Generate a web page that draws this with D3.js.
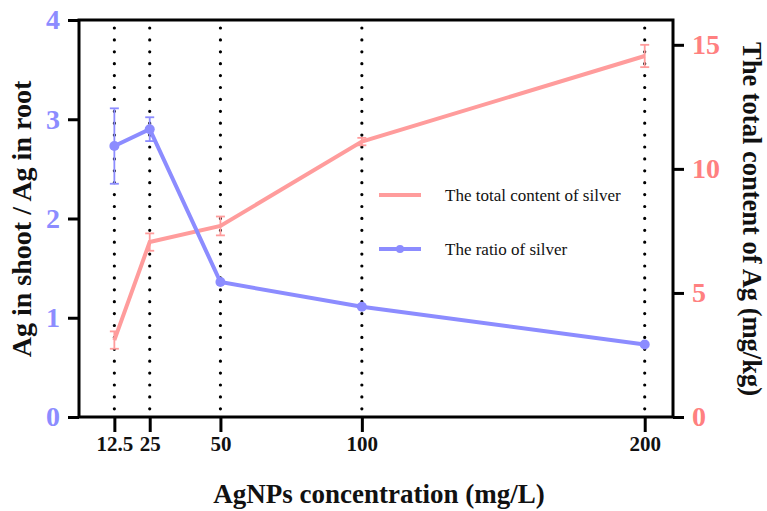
<!DOCTYPE html>
<html><head><meta charset="utf-8">
<script src="https://cdn.jsdelivr.net/npm/d3@7"></script>
<style>body{margin:0;background:#fff}</style>
</head><body><svg id="c" width="767" height="511"></svg>
<script>
const concentrations = [12.5, 25, 50, 100, 200];
const ratioValues = [2.73, 2.90, 1.36, 1.11, 0.73];
const ratioErrors = [0.38, 0.12, 0, 0, 0];
const totalValues = [3.1, 7.05, 7.7, 11.1, 14.55];
const totalErrors = [0.35, 0.35, 0.38, 0.15, 0.45];
const leftTicks = [0, 1, 2, 3, 4];
const rightTicks = [0, 5, 10, 15];
const xTickLabels = ["12.5", "25", "50", "100", "200"];

const svg = d3.select("#c");
const L = 79, R = 673, T = 20, B = 417;
const blue = "#8c8cff", red = "#ff9c9c";
const serif = "'Liberation Serif','Times New Roman',serif";

const x = d3.scaleLinear().domain([0, 210]).range([L, R]);
const yL = d3.scaleLinear().domain([0, 4]).range([B, T]);
const yR = d3.scaleLinear().domain([0, 16]).range([B, T]);

// dotted vertical lines
svg.selectAll(".vdot").data(concentrations).enter().append("line")
  .attr("x1", d => x(d)).attr("x2", d => x(d)).attr("y1", T + 8).attr("y2", B)
  .attr("stroke", "#000").attr("stroke-width", 3.2).attr("stroke-linecap", "round")
  .attr("stroke-dasharray", "0,11.9");

// box
svg.append("rect").attr("x", L).attr("y", T).attr("width", R - L).attr("height", B - T)
  .attr("fill", "none").attr("stroke", "#000").attr("stroke-width", 3);

// axes
const xAxis = d3.axisBottom(x).tickValues(concentrations).tickFormat((d, i) => xTickLabels[i]).tickSize(15).tickPadding(4);
const gx = svg.append("g").attr("transform", `translate(0,${B})`).call(xAxis);
gx.select(".domain").remove();
gx.selectAll("line").attr("stroke", "#000").attr("stroke-width", 3);
gx.selectAll("text").attr("font-family", serif).attr("font-weight", "bold").attr("font-size", 21).attr("fill", "#111");

const lAxis = d3.axisLeft(yL).tickValues(leftTicks).tickFormat(d3.format("d")).tickSize(11).tickPadding(8);
const gl = svg.append("g").attr("transform", `translate(${L},0)`).call(lAxis);
gl.select(".domain").remove();
gl.selectAll("line").attr("stroke", "#000").attr("stroke-width", 3);
gl.selectAll("text").attr("font-family", serif).attr("font-weight", "bold").attr("font-size", 28).attr("fill", blue);

const rAxis = d3.axisRight(yR).tickValues(rightTicks).tickFormat(d3.format("d")).tickSize(11).tickPadding(8);
const gr = svg.append("g").attr("transform", `translate(${R},0)`).call(rAxis);
gr.select(".domain").remove();
gr.selectAll("line").attr("stroke", "#000").attr("stroke-width", 3);
gr.selectAll("text").attr("font-family", serif).attr("font-weight", "bold").attr("font-size", 28).attr("fill", "#ff8080");

// data
const totalData = concentrations.map((c, i) => ({c, v: totalValues[i], e: totalErrors[i]}));
const ratioData = concentrations.map((c, i) => ({c, v: ratioValues[i], e: ratioErrors[i]}));

function errBars(data, y, color) {
  const g = svg.append("g").attr("stroke", color).attr("stroke-width", 1.8).attr("fill", "none");
  data.filter(d => d.e > 0).forEach(d => {
    const xc = x(d.c), y1 = y(d.v + d.e), y2 = y(d.v - d.e);
    g.append("line").attr("x1", xc).attr("x2", xc).attr("y1", y1).attr("y2", y2);
    g.append("line").attr("x1", xc - 4.5).attr("x2", xc + 4.5).attr("y1", y1).attr("y2", y1);
    g.append("line").attr("x1", xc - 4.5).attr("x2", xc + 4.5).attr("y1", y2).attr("y2", y2);
  });
}

errBars(totalData, yR, red);
svg.append("path").datum(totalData)
  .attr("d", d3.line().x(d => x(d.c)).y(d => yR(d.v)))
  .attr("fill", "none").attr("stroke", red).attr("stroke-width", 4);

errBars(ratioData, yL, blue);
svg.append("path").datum(ratioData)
  .attr("d", d3.line().x(d => x(d.c)).y(d => yL(d.v)))
  .attr("fill", "none").attr("stroke", blue).attr("stroke-width", 4);
svg.selectAll(".pt").data(ratioData).enter().append("circle")
  .attr("cx", d => x(d.c)).attr("cy", d => yL(d.v)).attr("r", 5).attr("fill", blue);

// legend
const lg = svg.append("g");
lg.append("line").attr("x1", 379).attr("x2", 421).attr("y1", 195).attr("y2", 195).attr("stroke", red).attr("stroke-width", 4);
lg.append("text").attr("x", 445).attr("y", 201).text("The total content of silver")
  .attr("font-family", serif).attr("font-size", 17).attr("fill", "#111");
lg.append("line").attr("x1", 379).attr("x2", 421).attr("y1", 249).attr("y2", 249).attr("stroke", blue).attr("stroke-width", 4);
lg.append("circle").attr("cx", 400).attr("cy", 249).attr("r", 4).attr("fill", blue);
lg.append("text").attr("x", 445).attr("y", 255).text("The ratio of silver")
  .attr("font-family", serif).attr("font-size", 17).attr("fill", "#111");

// axis titles
svg.append("text").attr("transform", "translate(31,219) rotate(-90)").attr("text-anchor", "middle")
  .attr("font-family", serif).attr("font-weight", "bold").attr("font-size", 28).attr("fill", "#111")
  .text("Ag in shoot / Ag in root");
svg.append("text").attr("transform", "translate(743,219) rotate(90)").attr("text-anchor", "middle")
  .attr("font-family", serif).attr("font-weight", "bold").attr("font-size", 26.5).attr("fill", "#111")
  .text("The total content of Ag (mg/kg)");
svg.append("text").attr("x", 379).attr("y", 503).attr("text-anchor", "middle")
  .attr("font-family", serif).attr("font-weight", "bold").attr("font-size", 27).attr("fill", "#111")
  .text("AgNPs concentration (mg/L)");
</script></body></html>
